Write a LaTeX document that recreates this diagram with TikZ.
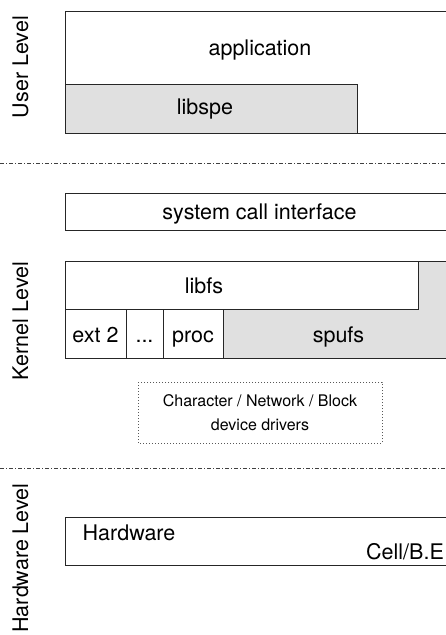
\documentclass[tikz,border=0pt]{standalone}
\usepackage{fontspec}
\setmainfont{TeX Gyre Heros}
\usetikzlibrary{positioning}

\begin{document}
\begin{tikzpicture}[x=1pt, y=-1pt,
  every node/.style={font=\fontsize{21.5}{24}\selectfont, inner sep=0pt},
  small text/.style={font=\fontsize{16}{19}\selectfont},
  box/.style={draw=black!85, line width=0.8pt, fill=white},
  spe box/.style={box, fill=black!12},
  level line/.style={draw=black!75, line width=0.8pt, dash pattern=on 4pt off 2pt on 1pt off 2pt},
  driver box/.style={draw=black!65, line width=0.8pt, dash pattern=on 0.8pt off 2.2pt}]

\useasboundingbox (0,0) rectangle (446,635);

% level labels
\foreach \l/\y in {User/67, Kernel/321, Hardware/558}
  \node [rotate=90, anchor=base] (level-\l) at (28,\y) {\l\ Level};

% level separators
\foreach \y [count=\i] in {163,468}
  \draw [level line] (0,\y) -- (446,\y);

% user level
\draw [box] (65,11) rectangle (455,133);
\draw [spe box] (65,84) rectangle (357,133);
\node [anchor=base] (application) at (260,55) {application};
\node [anchor=base] (libspe) at (205,114.5) {libspe};

% kernel level
\draw [box] (65,193) rectangle (455,230);
\node [anchor=base] (syscall) at (259.5,219) {system call interface};

\draw [spe box] (223,261) rectangle (455,358);
\draw [box] (65,261) rectangle (418,309);
\node [anchor=base] (libfs) at (204,293) {libfs};

% file systems
\draw [box] (65,309) rectangle (126,358);
\draw [box] (126,309) rectangle (163,358);
\draw [box] (163,309) rectangle (223,358);
\node [anchor=base] (ext2) at (95.5,342) {ext 2};
\node [anchor=base] (others) at (144.5,342) {...};
\node [anchor=base] (proc) at (193,342) {proc};
\node [anchor=base] (spufs) at (338.5,342) {spufs};

% device drivers
\draw [driver box] (138,382) rectangle (382,443);
\node [small text, anchor=base] (drivers-1) at (260,406.5) {Character / Network / Block};
\node [small text, anchor=base] (drivers-2) at (260,430) {device drivers};

% hardware level
\draw [box] (65,517) rectangle (455,565);
\node [anchor=base west] (hardware) at (82.5,540.5) {Hardware};
\node [anchor=base west] (cell) at (366,559) {Cell/B.E};

\end{tikzpicture}
\end{document}
